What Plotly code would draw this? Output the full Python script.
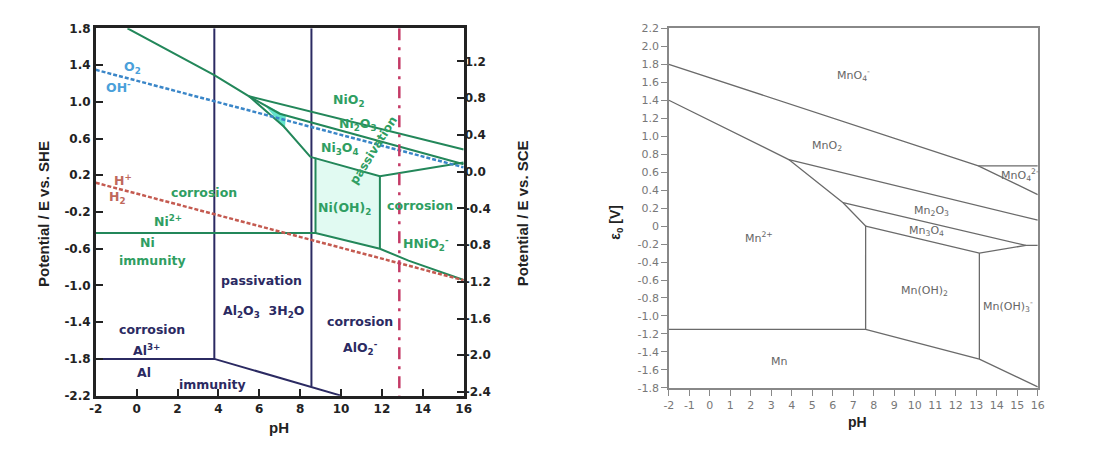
import plotly.graph_objects as go

W, H = 1103, 454

# ---------------- Left panel: Al / Ni Pourbaix (E vs SHE) ----------------
ph_o2 = [-2, 16]
e_o2 = [1.348, 0.286]
ph_h2 = [-2, 16]
e_h2 = [0.118, -0.944]

ph_al_v1 = [3.8, 3.8]
e_al_v1 = [1.8, -1.8]
ph_al_v2 = [8.55, 8.55]
e_al_v2 = [1.8, -2.1]
ph_al_low = [-2, 3.8, 10.0]
e_al_low = [-1.8, -1.8, -2.2]

ph_ni_a = [-0.45, 3.8, 5.5, 7.2, 8.5]
e_ni_a = [1.8, 1.29, 1.06, 0.73, 0.40]
ph_ni_b = [5.5, 16]
e_ni_b = [1.06, 0.48]
ph_ni_c = [5.5, 7.0, 16]
e_ni_c = [1.06, 0.87, 0.32]
ph_ni_top = [8.5, 11.9, 16]
e_ni_top = [0.40, 0.19, 0.34]
ph_ni_v1 = [8.75, 8.75]
e_ni_v1 = [0.39, -0.43]
ph_ni_v2 = [11.9, 11.9]
e_ni_v2 = [0.19, -0.60]
ph_ni_bot = [-2, 8.75, 11.9, 13.3, 16]
e_ni_bot = [-0.43, -0.43, -0.60, -0.73, -0.94]
ph_ni_tri = [6.2, 7.3, 7.25]
e_ni_tri = [0.98, 0.85, 0.70]
ph_ni_oh = [8.75, 11.9, 11.9, 8.75]
e_ni_oh = [0.39, 0.19, -0.60, -0.43]
ph_mark = [12.85, 12.85]
e_mark = [1.8, -2.2]

she_ticks = [1.8, 1.4, 1.0, 0.6, 0.2, -0.2, -0.6, -1.0, -1.4, -1.8, -2.2]
sce_ticks = [1.2, 0.8, 0.4, 0.0, -0.4, -0.8, -1.2, -1.6, -2.0, -2.4]
ph_ticks_left = [-2, 0, 2, 4, 6, 8, 10, 12, 14, 16]

# ---------------- Right panel: Mn Pourbaix ----------------
ph_mn_top = [-2, 13.1, 16]
e_mn_top = [1.8, 0.67, 0.35]
ph_mn_mno4 = [13.1, 16]
e_mn_mno4 = [0.67, 0.67]
ph_mn_2 = [-2, 3.85, 6.5, 7.6, 7.6]
e_mn_2 = [1.4, 0.74, 0.26, 0.0, -1.15]
ph_mn_mno2 = [3.85, 16]
e_mn_mno2 = [0.74, 0.065]
ph_mn_mn2o3 = [6.5, 15.42, 16]
e_mn_mn2o3 = [0.26, -0.215, -0.215]
ph_mn_mn3o4 = [7.6, 13.15, 15.42]
e_mn_mn3o4 = [0.0, -0.30, -0.215]
ph_mn_v = [13.15, 13.15]
e_mn_v = [-0.30, -1.48]
ph_mn_low = [-2, 7.6, 13.15, 16]
e_mn_low = [-1.15, -1.15, -1.48, -1.79]

mn_yticks = [2.2, 2.0, 1.8, 1.6, 1.4, 1.2, 1.0, 0.8, 0.6, 0.4, 0.2, 0.0,
             -0.2, -0.4, -0.6, -0.8, -1.0, -1.2, -1.4, -1.6, -1.8]
mn_xticks = list(range(-2, 17))


def fmt(v, dec=1):
    return f"{v:.{dec}f}"


NAVY = "#2b2a62"
GREEN = "#23875a"
GTXT = "#2f9e62"
BLUE = "#3a86c8"
RED = "#c45a50"
PINK = "#c43a66"

fig = go.Figure()


def line(x, y, color, width=2, dash="solid", xa="x", ya="y"):
    fig.add_trace(go.Scatter(x=x, y=y, mode="lines", xaxis=xa, yaxis=ya,
                             line=dict(color=color, width=width, dash=dash),
                             hoverinfo="skip", showlegend=False))


def fill(x, y, color):
    fig.add_trace(go.Scatter(x=x, y=y, mode="lines", fill="toself",
                             fillcolor=color, line=dict(width=0),
                             xaxis="x", yaxis="y", hoverinfo="skip",
                             showlegend=False))


# fills
fill(ph_ni_oh, e_ni_oh, "rgba(200,245,232,0.55)")
fill(ph_ni_tri, e_ni_tri, "rgba(60,220,190,0.8)")

# Al boundaries
line(ph_al_v1, e_al_v1, NAVY)
line(ph_al_v2, e_al_v2, NAVY)
line(ph_al_low, e_al_low, NAVY)
# Ni boundaries
line(ph_ni_a, e_ni_a, GREEN)
line(ph_ni_b, e_ni_b, GREEN)
line(ph_ni_c, e_ni_c, GREEN)
line(ph_ni_top, e_ni_top, GREEN)
line(ph_ni_v1, e_ni_v1, GREEN)
line(ph_ni_v2, e_ni_v2, GREEN)
line(ph_ni_bot, e_ni_bot, GREEN)
# water lines
line(ph_o2, e_o2, BLUE, 2.5, "4px,2px")
line(ph_h2, e_h2, RED, 2.5, "4px,2px")
# marker pH line
line(ph_mark, e_mark, PINK, 2.5, "12px,7px,3px,7px")

# Mn lines
for xs, ys in [(ph_mn_top, e_mn_top), (ph_mn_mno4, e_mn_mno4), (ph_mn_2, e_mn_2),
               (ph_mn_mno2, e_mn_mno2), (ph_mn_mn2o3, e_mn_mn2o3),
               (ph_mn_mn3o4, e_mn_mn3o4), (ph_mn_v, e_mn_v), (ph_mn_low, e_mn_low)]:
    line(xs, ys, "#6a6a6a", 1.3, xa="x2", ya="y2")

# invisible trace to activate SCE axis
fig.add_trace(go.Scatter(x=[None], y=[None], xaxis="x", yaxis="y3",
                         showlegend=False, hoverinfo="skip"))

L_x0, L_x1 = 90 / W, 463 / W
L_y0, L_y1 = 1 - 401 / H, 1 - 22 / H
R_x0, R_x1 = 671 / W, 1045 / W
R_y0, R_y1 = 1 - 393 / H, 1 - 22 / H

BOLDFAM = "DejaVu Sans, sans-serif"
bold_tick = dict(family=BOLDFAM, size=12, color="#222", weight="bold")
small_tick = dict(family="DejaVu Sans, sans-serif", size=11, color="#777")

fig.update_layout(
    width=W, height=H, margin=dict(l=0, r=0, t=0, b=0),
    paper_bgcolor="white", plot_bgcolor="white",
    xaxis=dict(domain=[L_x0, L_x1], range=[-2, 16], tickvals=ph_ticks_left,
               ticktext=[str(v) for v in ph_ticks_left],
               ticks="inside", ticklen=7, tickwidth=2, tickcolor="#222",
               showline=True, linewidth=2.5, linecolor="#222", mirror=True,
               showgrid=False, zeroline=False, tickfont=bold_tick),
    yaxis=dict(domain=[L_y0, L_y1], range=[-2.2, 1.8], tickvals=she_ticks,
               ticktext=[fmt(v) for v in she_ticks],
               ticks="inside", ticklen=7, tickwidth=2, tickcolor="#222",
               showline=True, linewidth=2.5, linecolor="#222", mirror=True,
               showgrid=False, zeroline=False, tickfont=bold_tick),
    yaxis3=dict(overlaying="y", side="right", anchor="x", range=[-2.44, 1.56],
                tickvals=sce_ticks, ticktext=[fmt(v) for v in sce_ticks],
                ticks="inside", ticklen=7, tickwidth=2, tickcolor="#222",
                showgrid=False, zeroline=False, tickfont=bold_tick),
    xaxis2=dict(domain=[R_x0, R_x1], anchor="y2", range=[-2, 16], tickvals=mn_xticks,
                ticktext=[str(v) for v in mn_xticks],
                ticks="outside", ticklen=6, tickwidth=1.3, tickcolor="#888",
                showline=True, linewidth=1.5, linecolor="#888", mirror=True,
                showgrid=False, zeroline=False, tickfont=small_tick),
    yaxis2=dict(domain=[R_y0, R_y1], anchor="x2", range=[-1.8, 2.2], tickvals=mn_yticks,
                ticktext=[("0" if v == 0 else fmt(v)) for v in mn_yticks],
                ticks="outside", ticklen=6, tickwidth=1.3, tickcolor="#888",
                showline=True, linewidth=1.5, linecolor="#888", mirror=True,
                showgrid=False, zeroline=False, tickfont=small_tick),
)

ann = []


def txt(x, y, s, color, size=12, angle=0, family=BOLDFAM, bold=True):
    ann.append(dict(x=x, y=y, xref="paper", yref="paper", text=s, showarrow=False,
                    textangle=angle, xanchor="center", yanchor="middle",
                    font=dict(family=family, size=size, color=color,
                              weight="bold" if bold else "normal")))


def px(xp, yp):
    return xp / W, 1 - yp / H


# axis titles (pixel positions)
for (xp, yp, s, ang, sz, fam) in [
    (37, 213, "Potential / E vs. SHE", -90, 15, "Liberation Sans, Arial, sans-serif"),
    (523, 213, "Potential / E vs. SCE", -90, 15, "Liberation Sans, Arial, sans-serif"),
    (276, 434, "pH", 0, 15, "Liberation Sans, Arial, sans-serif"),
    (862, 428, "pH", 0, 14, "Liberation Sans, Arial, sans-serif"),
    (618, 222, "ε<sub>0</sub> [V]", -90, 14, "Liberation Sans, Arial, sans-serif"),
]:
    x, y = px(xp, yp)
    txt(x, y, s, "#222", sz, ang, family=fam)

# left panel labels (pixel positions)
left_labels = [
    (127, 62, "O<sub>2</sub>", "#4aa0da"),
    (113, 83, "OH<sup>-</sup>", "#4aa0da"),
    (118, 178, "H<sup>+</sup>", "#c0685c"),
    (112, 197, "H<sub>2</sub>", "#c0685c"),
    (200, 191, "corrosion", GTXT),
    (163, 221, "Ni<sup>2+</sup>", GTXT),
    (142, 243, "Ni", GTXT),
    (148, 262, "immunity", GTXT),
    (346, 96, "NiO<sub>2</sub>", GTXT),
    (356, 121, "Ni<sub>2</sub>O<sub>3</sub>", GTXT),
    (338, 146, "Ni<sub>3</sub>O<sub>4</sub>", GTXT),
    (342, 208, "Ni(OH)<sub>2</sub>", GTXT),
    (419, 205, "corrosion", GTXT),
    (425, 245, "HNiO<sub>2</sub><sup>-</sup>", GTXT),
    (258, 282, "passivation", NAVY),
    (260, 314, "Al<sub>2</sub>O<sub>3</sub>  3H<sub>2</sub>O", NAVY),
    (147, 333, "corrosion", NAVY),
    (141, 354, "Al<sup>3+</sup>", NAVY),
    (139, 377, "Al", NAVY),
    (208, 389, "immunity", NAVY),
    (358, 325, "corrosion", NAVY),
    (358, 352, "AlO<sub>2</sub><sup>-</sup>", NAVY),
]
for xp, yp, s, c in left_labels:
    x, y = px(xp, yp)
    txt(x, y, s, c, 12.5)

x, y = px(372, 148)
txt(x, y, "passivation", GTXT, 12, -58)

# right panel labels
right_labels = [
    (858, 70, "MnO<sub>4</sub><sup>-</sup>"),
    (831, 143, "MnO<sub>2</sub>"),
    (1027, 173, "MnO<sub>4</sub><sup>2-</sup>"),
    (937, 210, "Mn<sub>2</sub>O<sub>3</sub>"),
    (932, 231, "Mn<sub>3</sub>O<sub>4</sub>"),
    (762, 238, "Mn<sup>2+</sup>"),
    (930, 293, "Mn(OH)<sub>2</sub>"),
    (1015, 309, "Mn(OH)<sub>3</sub><sup>-</sup>"),
    (783, 366, "Mn"),
]
for xp, yp, s in right_labels:
    x, y = px(xp, yp)
    txt(x, y, s, "#666", 11, family="DejaVu Sans, sans-serif", bold=False)

fig.update_layout(annotations=ann)

fig.write_html("out.html")
